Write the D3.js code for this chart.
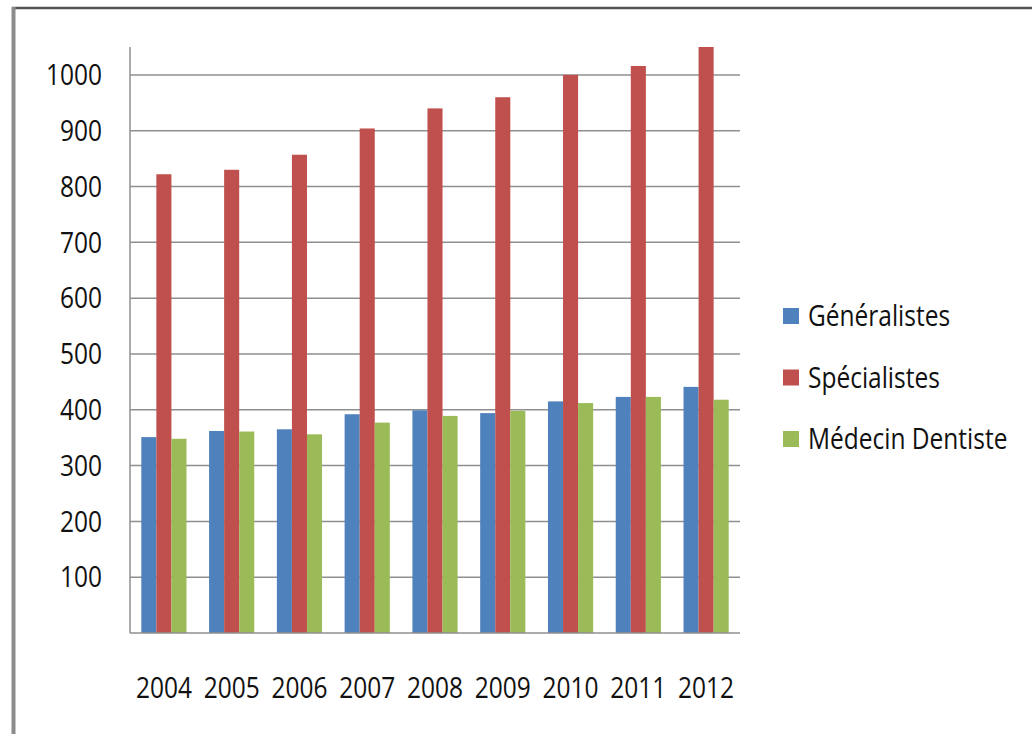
<!DOCTYPE html>
<html>
<head>
<meta charset="utf-8">
<script src="https://cdn.jsdelivr.net/npm/d3@7"></script>
<style>
  body { margin: 0; background: #fff; }
  svg { display: block; font-family: "Open Sans", sans-serif; }
</style>
</head>
<body>
<script>
const years = ["2004", "2005", "2006", "2007", "2008", "2009", "2010", "2011", "2012"];
const series = ["Généralistes", "Spécialistes", "Médecin Dentiste"];
const generalistes = [351, 362, 365, 392, 399, 394, 415, 423, 441];
const specialistes = [822, 830, 857, 904, 940, 960, 1000, 1016, 1050];
const dentistes = [348, 361, 356, 377, 389, 398, 412, 423, 418];
const yTicks = [100, 200, 300, 400, 500, 600, 700, 800, 900, 1000];
const colors = ["#4F81BD", "#C0504D", "#9BBB59"];

const values = [generalistes, specialistes, dentistes];

// plot area
const margin = {left: 130, top: 47, right: 292, bottom: 101},
    width = 1032 - margin.left - margin.right,
    height = 734 - margin.top - margin.bottom;

const fontSize = 24.5, stretch = 1.2;

const svg = d3.select('body').append('svg')
    .attr('width', 1032)
    .attr('height', 734);

// outer frame (top and left edges visible)
svg.append('line')
    .attr('x1', 12).attr('x2', 1032).attr('y1', 8).attr('y2', 8)
    .attr('stroke', '#555').attr('stroke-width', 2.5);
svg.append('line')
    .attr('x1', 13.5).attr('x2', 13.5).attr('y1', 7).attr('y2', 734)
    .attr('stroke', '#8c8c8c').attr('stroke-width', 4);

const g = svg.append('g')
    .attr('transform', `translate(${margin.left}, ${margin.top})`);

const x0 = d3.scaleBand()
    .domain(years)
    .range([0, width])
    .paddingInner(0)
    .paddingOuter(0);

const x1 = d3.scaleBand()
    .domain(series)
    .range([0, x0.bandwidth()])
    .paddingInner(0)
    .paddingOuter(0.75);

const yScale = d3.scaleLinear()
    .domain([0, 1050])
    .range([height, 0]);

// gridlines
g.selectAll('.grid')
    .data(yTicks)
    .enter()
    .append('line')
        .attr('class', 'grid')
        .attr('x1', 0)
        .attr('x2', width)
        .attr('y1', d => yScale(d))
        .attr('y2', d => yScale(d))
        .attr('stroke', '#8f8f8f')
        .attr('stroke-width', 1.5);

// y tick labels (slightly stretched vertically like the original)
g.selectAll('.ylab')
    .data(yTicks)
    .enter()
    .append('text')
        .attr('class', 'ylab')
        .attr('transform', d => `translate(-28, ${yScale(d)}) scale(1, ${stretch})`)
        .attr('text-anchor', 'end')
        .attr('dy', '0.35em')
        .attr('font-size', fontSize + 'px')
        .attr('fill', '#111')
        .text(d3.format('d'));

// x labels
g.selectAll('.xlab')
    .data(years)
    .enter()
    .append('text')
        .attr('class', 'xlab')
        .attr('transform', d => `translate(${x0(d) + x0.bandwidth() / 2}, ${height + 65}) scale(1, ${stretch})`)
        .attr('text-anchor', 'middle')
        .attr('font-size', fontSize + 'px')
        .attr('fill', '#111')
        .text(d => d);

// bars
const groups = g.selectAll('.year')
    .data(years)
    .enter()
    .append('g')
        .attr('class', 'year')
        .attr('transform', d => `translate(${x0(d)}, 0)`);

groups.selectAll('rect')
    .data((d, i) => series.map((s, j) => ({s: s, v: values[j][i], c: colors[j]})))
    .enter()
    .append('rect')
        .attr('x', d => x1(d.s))
        .attr('y', d => yScale(d.v))
        .attr('width', x1.bandwidth())
        .attr('height', d => height - yScale(d.v))
        .attr('fill', d => d.c);

// axis lines
g.append('line')
    .attr('x1', 0).attr('x2', 0).attr('y1', 0).attr('y2', height)
    .attr('stroke', '#8f8f8f').attr('stroke-width', 1.5);
g.append('line')
    .attr('x1', 0).attr('x2', width).attr('y1', height).attr('y2', height)
    .attr('stroke', '#8f8f8f').attr('stroke-width', 1.5);

// legend
const legend = svg.selectAll('.legend')
    .data(series)
    .enter()
    .append('g')
        .attr('class', 'legend')
        .attr('transform', (d, i) => `translate(783, ${316 + i * 61.5})`);

legend.append('rect')
    .attr('x', 0)
    .attr('y', -8)
    .attr('width', 16)
    .attr('height', 16)
    .attr('fill', (d, i) => colors[i]);

legend.append('text')
    .attr('transform', `translate(25, 0) scale(1, ${stretch})`)
    .attr('dy', '0.35em')
    .attr('font-size', fontSize + 'px')
    .attr('fill', '#111')
    .text(d => d);
</script>
</body>
</html>
